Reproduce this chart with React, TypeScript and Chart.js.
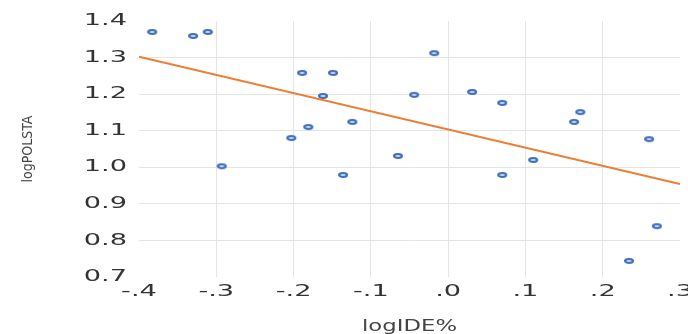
import React, { useEffect, useRef } from 'react';
import { Chart, registerables } from 'chart.js';

Chart.register(...registerables);

// logIDE% (x) and logPOLSTA (y)
const xValues = [-0.383, -0.330, -0.311, -0.293, -0.203, -0.189, -0.181, -0.162, -0.149, -0.136, -0.124, -0.065, -0.044, -0.018, 0.031, 0.070, 0.070, 0.110, 0.163, 0.171, 0.234, 0.260, 0.270];
const yValues = [1.370, 1.359, 1.370, 1.003, 1.080, 1.258, 1.110, 1.195, 1.258, 0.979, 1.124, 1.031, 1.198, 1.312, 1.206, 1.176, 0.979, 1.020, 1.124, 1.151, 0.744, 1.077, 0.839];

// linear trend line endpoints
const trendX = [-0.4, 0.3];
const trendY = [1.302, 0.954];

const xTitle = 'logIDE%';
const yTitle = 'logPOLSTA';

const fmtX = (v: number) => {
  const r = Math.round(v * 10);
  if (r === 0) return '.0';
  return (r < 0 ? '-.' : '.') + Math.abs(r);
};

function makeMarker(): HTMLCanvasElement {
  const c = document.createElement('canvas');
  c.width = 12;
  c.height = 8;
  const g = c.getContext('2d')!;
  g.beginPath();
  g.ellipse(6, 4, 3.9, 1.8, 0, 0, Math.PI * 2);
  g.fillStyle = '#ffffff';
  g.fill();
  g.lineWidth = 2.3;
  g.strokeStyle = '#3F6EC0';
  g.stroke();
  return c;
}

const stretchPlugin = {
  id: 'stretchText',
  beforeInit(chart: any) {
    const ctx = chart.ctx as CanvasRenderingContext2D;
    if ((ctx as any).__patched) return;
    (ctx as any).__patched = true;
    const orig = ctx.fillText.bind(ctx);
    (ctx as any).fillText = function (text: string, x: number, y: number, maxWidth?: number) {
      const t = ctx.getTransform();
      const rotated = Math.abs(t.b) > 1e-6;
      let sx = 1;
      if (!rotated) {
        if (ctx.font.indexOf('16px') >= 0) sx = 1.7;
        else if (ctx.font.indexOf('15px') >= 0) sx = 1.52;
      }
      ctx.save();
      ctx.translate(x, y);
      ctx.scale(sx, 1);
      if (maxWidth !== undefined) orig(text, 0, 0, maxWidth / sx);
      else orig(text, 0, 0);
      ctx.restore();
    };
  },
};

const gridColor = (c: any) => {
  const n = c.scale.ticks.length;
  if (c.index === 0 || c.index === n - 1) return 'rgba(0,0,0,0)';
  return '#e4e4e4';
};

export default function App() {
  const ref = useRef<HTMLCanvasElement>(null);

  useEffect(() => {
    if (!ref.current) return;
    const marker = makeMarker();
    const points = xValues.map((x, i) => ({ x, y: yValues[i] }));
    const trend = trendX.map((x, i) => ({ x, y: trendY[i] }));

    const chart = new Chart(ref.current, {
      type: 'scatter',
      data: {
        datasets: [
          {
            label: 'data',
            data: points,
            pointStyle: marker as any,
            pointRadius: 4,
            order: 1,
          },
          {
            type: 'line',
            label: 'trend',
            data: trend,
            borderColor: '#ED7D31',
            borderWidth: 2,
            pointRadius: 0,
            fill: false,
            showLine: true,
            order: 2,
          } as any,
        ],
      },
      plugins: [stretchPlugin],
      options: {
        animation: false,
        responsive: false,
        events: [],
        layout: { padding: { top: 21, right: 8, bottom: 0, left: 0 } },
        plugins: {
          legend: { display: false },
          tooltip: { enabled: false },
        },
        scales: {
          x: {
            type: 'linear',
            min: -0.4,
            max: 0.3,
            border: { display: false },
            grid: { color: gridColor, lineWidth: 1, drawTicks: false },
            ticks: {
              stepSize: 0.1,
              padding: 5,
              color: '#333333',
              font: { family: "'DejaVu Sans', sans-serif", size: 16 },
              maxRotation: 0,
              autoSkip: false,
              callback: (v: any) => fmtX(Number(v)),
            },
            title: {
              display: true,
              text: xTitle,
              color: '#444444',
              font: { family: "'DejaVu Sans', sans-serif", size: 15, lineHeight: 1 },
              padding: { top: 0, bottom: -1 },
            },
            afterFit: (s: any) => {
              s.height = 57;
              s.paddingLeft = 0;
              s.paddingRight = 0;
            },
          },
          y: {
            type: 'linear',
            min: 0.7,
            max: 1.4,
            border: { display: false },
            grid: { color: gridColor, lineWidth: 1, drawTicks: false },
            ticks: {
              stepSize: 0.1,
              padding: 12,
              color: '#333333',
              font: { family: "'DejaVu Sans', sans-serif", size: 16 },
              callback: (v: any) => Number(v).toFixed(1),
            },
            title: {
              display: true,
              text: yTitle,
              color: '#444444',
              font: { family: "'Liberation Sans Narrow', 'DejaVu Sans Condensed', sans-serif", size: 14 },
              padding: { top: 20, bottom: 0 },
            },
            afterFit: (s: any) => {
              s.width = 139;
              s.paddingTop = 0;
              s.paddingBottom = 0;
            },
          },
        },
      },
    });
    return () => chart.destroy();
  }, []);

  return (
    <div style={{ position: 'fixed', left: 0, top: 0, width: 688, height: 334, background: '#ffffff' }}>
      <canvas ref={ref} width={688} height={334} style={{ display: 'block' }} />
    </div>
  );
}
